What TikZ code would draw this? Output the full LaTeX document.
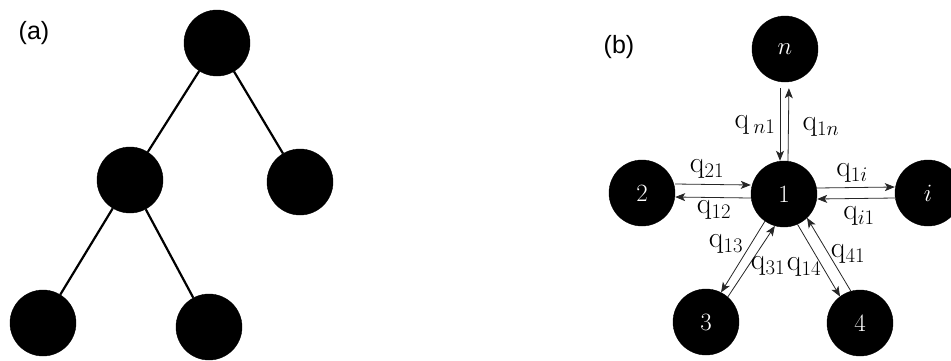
\documentclass[tikz,border=0pt]{standalone}
\usepackage{fontspec}
\newfontfamily\lblfont{Liberation Sans}
\usetikzlibrary{arrows.meta}
\begin{document}
\begin{tikzpicture}[x=1pt,y=-1pt,
  dot/.style={circle,fill=black,draw=black,minimum size=66pt,inner sep=0pt,text=white,font=\fontsize{29}{33}\selectfont},
  edge/.style={line width=2.2pt,black},
  flow/.style={line width=0.8pt,black!85,-{Stealth[length=10pt,width=8pt,inset=2.5pt]}},
  lab/.style={font=\fontsize{30}{34}\selectfont,inner sep=0pt},
  panel/.style={font=\lblfont\fontsize{25}{29}\selectfont,inner sep=0pt}]
\useasboundingbox (0,0) rectangle (951,360);
% (a)
\node[panel] (pa) at (34,33) {(a)};
\node[dot] (r) at (217,43) {};
\node[dot] (m) at (130,180) {};
\node[dot] (rr) at (300,182) {};
\node[dot] (bl) at (43,323) {};
\node[dot] (bm) at (209,327) {};
\draw[edge] (r) -- (m);
\draw[edge] (r) -- (rr);
\draw[edge] (m) -- (bl);
\draw[edge] (m) -- (bm);
% (b)
\node[panel] (pb) at (619,47) {(b)};
\node[dot] (n) at (785,49) {$n$};
\node[dot] (one) at (784,194) {$1$};
\node[dot] (two) at (642,193) {$2$};
\node[dot] (ii) at (928,193) {$i$};
\node[dot] (three) at (706,322) {$3$};
\node[dot] (four) at (860,323) {$4$};
% n <-> 1
\draw[flow,shorten <=6pt] ([xshift=-5pt]n.south) -- ([xshift=-4pt]one.north);
\draw[flow,shorten >=6pt] ([xshift=4pt]one.north) -- ([xshift=4pt]n.south);
% 2 <-> 1
\draw[flow] ([yshift=9pt]two.east) -- ([yshift=9pt]one.west);
\draw[flow] ([yshift=-4pt]one.west) -- ([yshift=-4pt]two.east);
% 1 <-> i
\draw[flow] ([yshift=6pt]one.east) -- ([yshift=6pt]ii.west);
\draw[flow] ([yshift=-5pt]ii.west) -- ([yshift=-5pt]one.east);
% 1 <-> 3
\draw[flow] (one.235) -- (three.63);
\draw[flow] (three.49) -- (one.254);
% 1 <-> 4
\draw[flow] (one.294) -- (four.127);
\draw[flow] (four.106) -- (one.314);
% labels
\node[lab] (ln1) at (755,125) {$\mathrm{q}\,{}_{n1}$};
\node[lab] (l1n) at (821,127) {$\mathrm{q}_{1n}$};
\node[lab] (l21) at (707,169) {$\mathrm{q}_{21}$};
\node[lab] (l12) at (714,210) {$\mathrm{q}_{12}$};
\node[lab] (l1i) at (852,173) {$\mathrm{q}_{1i}$};
\node[lab] (li1) at (859,216) {$\mathrm{q}_{i1}$};
\node[lab] (l13) at (726,244) {$\mathrm{q}_{13}$};
\node[lab] (l31) at (768,266) {$\mathrm{q}_{31}$};
\node[lab] (l14) at (804,267) {$\mathrm{q}_{14}$};
\node[lab] (l41) at (848,254) {$\mathrm{q}_{41}$};
\end{tikzpicture}
\end{document}
